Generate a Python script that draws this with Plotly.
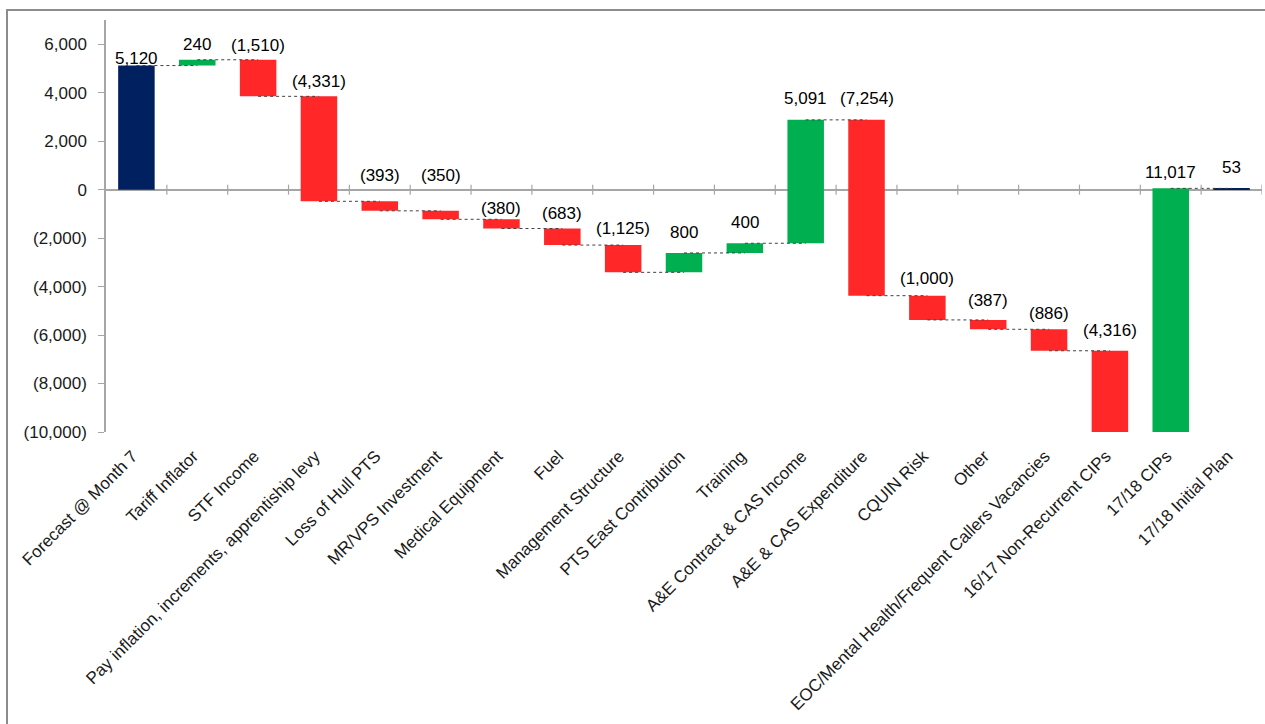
import plotly.graph_objects as go

categories = [
    "Forecast @ Month 7", "Tariff Inflator", "STF Income",
    "Pay inflation, increments, apprentiship levy", "Loss of Hull PTS",
    "MR/VPS Investment", "Medical Equipment", "Fuel", "Management Structure",
    "PTS East Contribution", "Training", "A&E Contract & CAS Income",
    "A&E & CAS Expenditure", "CQUIN Risk", "Other",
    "EOC/Mental Health/Frequent Callers Vacancies", "16/17 Non-Recurrent CIPs",
    "17/18 CIPs", "17/18 Initial Plan",
]
values = [5120, 240, -1510, -4331, -393, -350, -380, -683, -1125, 800, 400,
          5091, -7254, -1000, -387, -886, -4316, 11017, 53]
y_ticks = [-10000, -8000, -6000, -4000, -2000, 0, 2000, 4000, 6000]

# style: extra pixel lift of each data label above its bar (as placed in the original)
label_lift_px = [-4, 4, 3, 3, 14, 24, -1, 4, 5, 9, 9, 10, 10, 6, 8, 4, 9, 4, 9]

NAVY, GREEN, RED = "#002060", "#00B050", "#FF2727"
FONT = "Liberation Sans, Arial, sans-serif"
FS = 17


def fmt(v):
    return f"({abs(v):,})" if v < 0 else f"{v:,}"


n = len(categories)
xs = list(range(n))
bases, heights, colors, levels = [], [], [], []
running = 0
for i, v in enumerate(values):
    if i == 0 or i == n - 1:
        bases.append(0)
        heights.append(v)
        colors.append(NAVY)
        running = v
    else:
        bases.append(running)
        heights.append(v)
        colors.append(GREEN if v >= 0 else RED)
        running += v
    levels.append(running)

fig = go.Figure()
fig.add_trace(go.Bar(x=xs, y=heights, base=bases, width=0.6,
                     marker=dict(color=colors, line=dict(width=0)),
                     hoverinfo="skip", showlegend=False))

cx, cy = [], []
for i in range(n - 1):
    cx += [i, i + 1, None]
    cy += [levels[i], levels[i], None]
fig.add_trace(go.Scatter(x=cx, y=cy, mode="lines",
                         line=dict(color="#404040", width=1, dash="dot"),
                         hoverinfo="skip", showlegend=False))

annotations = []
for i, v in enumerate(values):
    top = max(bases[i], bases[i] + heights[i])
    annotations.append(dict(x=i, y=top, xref="x", yref="y", text=fmt(v),
                            showarrow=False, yanchor="bottom",
                            yshift=label_lift_px[i],
                            font=dict(family=FONT, size=FS, color="#000000")))

shapes = []
for k in range(1, n + 1):
    shapes.append(dict(type="line", xref="x", yref="y", x0=k - 0.5, x1=k - 0.5,
                       ysizemode="pixel", yanchor=0, y0=-5, y1=5,
                       line=dict(color="#A6A6A6", width=1.2)))
# outer chart border
shapes.append(dict(type="rect", xref="paper", yref="paper",
                   x0=(7 - 106) / 1156, x1=1.2, y0=-1.0, y1=1 + 10 / 412,
                   line=dict(color="#8C8C8C", width=2), fillcolor="rgba(0,0,0,0)"))

fig.update_layout(
    width=1265, height=724,
    margin=dict(l=106, r=3, t=20, b=292),
    paper_bgcolor="white", plot_bgcolor="white",
    font=dict(family=FONT, size=FS, color="#1a1a1a"),
    annotations=annotations, shapes=shapes, bargap=0.4,
    xaxis=dict(range=[-0.5, n - 0.5], tickmode="array", tickvals=xs,
               ticktext=categories, tickangle=-45, showgrid=False,
               zeroline=False, showline=False, ticks="",
               ticklabelstandoff=10, ticklabelshift=-4,
               tickfont=dict(family=FONT, size=FS, color="#1a1a1a")),
    yaxis=dict(range=[-10000, 7000], tickmode="array", tickvals=y_ticks,
               ticktext=[fmt(v) for v in y_ticks], showgrid=False,
               zeroline=True, zerolinecolor="#A6A6A6", zerolinewidth=2,
               showline=True, linecolor="#A6A6A6", linewidth=1.5,
               ticks="outside", ticklen=6, tickcolor="#A6A6A6",
               ticklabelstandoff=8,
               tickfont=dict(family=FONT, size=FS, color="#1a1a1a")),
)

fig.write_html("out.html")
